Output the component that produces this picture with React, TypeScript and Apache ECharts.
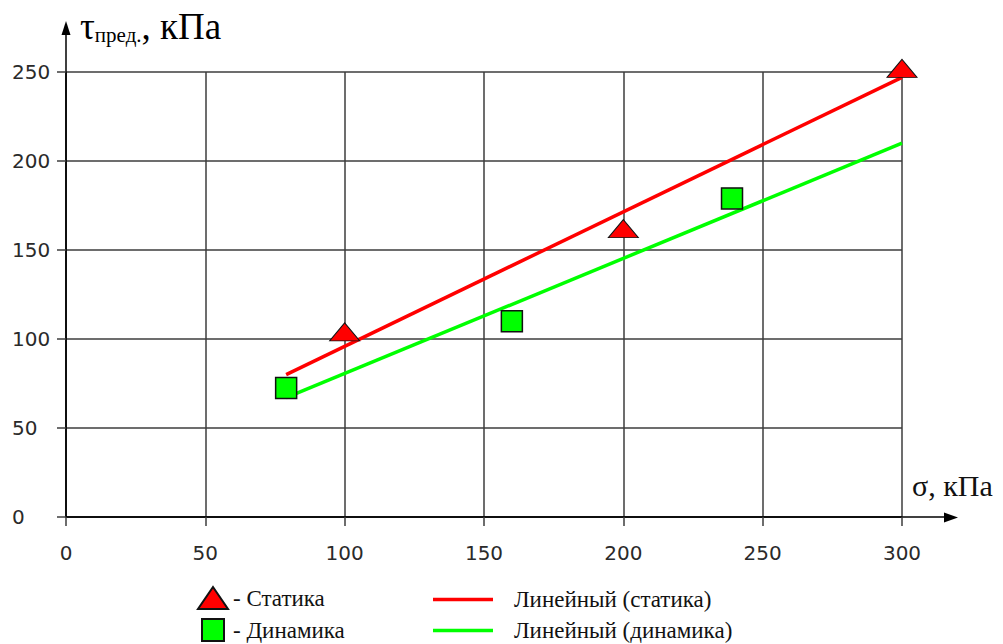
import React, { useEffect, useRef } from "react";
import * as echarts from "echarts";

// Data
const staticX = [100, 200, 300];
const staticY = [104, 162, 252];
const dynX = [79, 160, 239];
const dynY = [72.5, 110, 179];
const fitX = [79, 300];
const staticFitY = [80, 247];
const dynFitY = [67, 210];

const seriesNames = ["Статика", "Динамика", "Линейный (статика)", "Линейный (динамика)"];
const yTitle = { main: "τ", sub: "пред.", unit: ", кПа" };
const xTitle = "σ, кПа";

const zip = (xs: number[], ys: number[]) => xs.map((x, i) => [x, ys[i]]);

export default function App() {
  const ref = useRef<HTMLDivElement>(null);
  useEffect(() => {
    if (!ref.current) return;
    const chart = echarts.init(ref.current, undefined, { renderer: "svg" });
    const gridColor = "#3c3c3c";
    const labelFont = { fontFamily: "DejaVu Sans", fontSize: 20, color: "#2a2a2a" };
    const serif = "Liberation Serif";
    const legendText = { fontFamily: serif, fontSize: 23, color: "#111", lineHeight: 22 };
    chart.setOption({
      animation: false,
      backgroundColor: "#ffffff",
      grid: { left: 66, top: 72, right: 101, bottom: 127, containLabel: false },
      xAxis: {
        type: "value",
        min: 0,
        max: 300,
        interval: 50,
        axisLine: { show: true, lineStyle: { color: "#000", width: 1.5 } },
        axisTick: { show: true, length: 9, lineStyle: { color: gridColor, width: 1.5 } },
        splitLine: { show: true, lineStyle: { color: gridColor, width: 1.5 } },
        axisLabel: { ...labelFont, margin: 26 },
      },
      yAxis: {
        type: "value",
        min: 0,
        max: 250,
        interval: 50,
        axisLine: { show: true, lineStyle: { color: "#000", width: 1.5 } },
        axisTick: { show: true, length: 9, lineStyle: { color: gridColor, width: 1.5 } },
        splitLine: { show: true, lineStyle: { color: gridColor, width: 1.5 } },
        axisLabel: { ...labelFont, align: "left", margin: 54 },
      },
      legend: [
        {
          data: [
            { name: seriesNames[0], icon: "triangle" },
            { name: seriesNames[1], icon: "path://M0,0 L10,0 L10,10 L0,10 Z" },
          ],
          orient: "vertical",
          left: 197,
          top: 586,
          height: 80,
          padding: 0,
          itemWidth: 30,
          itemHeight: 22,
          itemGap: 8,
          symbolKeepAspect: true,
          formatter: "- {name}",
          textStyle: legendText,
        },
        {
          data: [
            { name: seriesNames[2], icon: "path://M0,0 L60,0 L60,3.5 L0,3.5 Z" },
            { name: seriesNames[3], icon: "path://M0,0 L60,0 L60,3.5 L0,3.5 Z" },
          ],
          orient: "vertical",
          left: 433,
          top: 588,
          height: 80,
          padding: 0,
          itemWidth: 60,
          itemHeight: 22,
          itemGap: 8,
          symbolKeepAspect: true,
          textStyle: { ...legendText, padding: [0, 0, 0, 16] },
        },
      ],
      graphic: [
        // y axis extension with arrow
        { type: "line", shape: { x1: 66, y1: 517, x2: 66, y2: 34 }, style: { stroke: "#000", lineWidth: 1.5 } },
        { type: "polygon", shape: { points: [[66, 21], [61.5, 35], [70.5, 35]] }, style: { fill: "#000" } },
        // x axis extension with arrow
        { type: "line", shape: { x1: 66, y1: 517, x2: 946, y2: 517 }, style: { stroke: "#000", lineWidth: 1.5 } },
        { type: "polygon", shape: { points: [[958, 517.5], [944, 512.5], [944, 522.5]] }, style: { fill: "#000" } },
        {
          type: "text",
          left: 80,
          top: 8,
          style: {
            text: `{a|${yTitle.main}}{b|${yTitle.sub}}{a|${yTitle.unit}}`,
            rich: {
              a: { fontFamily: serif, fontSize: 37, color: "#111", verticalAlign: "bottom", lineHeight: 40 },
              b: { fontFamily: serif, fontSize: 21, color: "#111", verticalAlign: "bottom", lineHeight: 32 },
            },
          },
        },
        {
          type: "text",
          left: 912,
          top: 470,
          style: { text: xTitle, fontFamily: serif, fontSize: 30, fill: "#111" },
        },
      ],
      series: [
        {
          name: seriesNames[2],
          type: "line",
          data: zip(fitX, staticFitY),
          symbol: "none",
          lineStyle: { color: "#ff0000", width: 3.5 },
          itemStyle: { color: "#ff0000" },
          z: 2,
        },
        {
          name: seriesNames[3],
          type: "line",
          data: zip(fitX, dynFitY),
          symbol: "none",
          lineStyle: { color: "#00ff00", width: 3.5 },
          itemStyle: { color: "#00ff00" },
          z: 2,
        },
        {
          name: seriesNames[0],
          type: "scatter",
          data: zip(staticX, staticY),
          symbol: "triangle",
          symbolSize: [30, 18],
          clip: false,
          itemStyle: { color: "#ff0000", borderColor: "#111", borderWidth: 1, opacity: 1 },
          z: 3,
        },
        {
          name: seriesNames[1],
          type: "scatter",
          data: zip(dynX, dynY),
          symbol: "rect",
          symbolSize: 21,
          clip: false,
          itemStyle: { color: "#00ff00", borderColor: "#111", borderWidth: 1.5, opacity: 1 },
          z: 3,
        },
      ],
    });
    return () => chart.dispose();
  }, []);
  return (
    <div
      ref={ref}
      style={{ position: "fixed", left: 0, top: 0, width: 1003, height: 644, background: "#fff" }}
    />
  );
}
